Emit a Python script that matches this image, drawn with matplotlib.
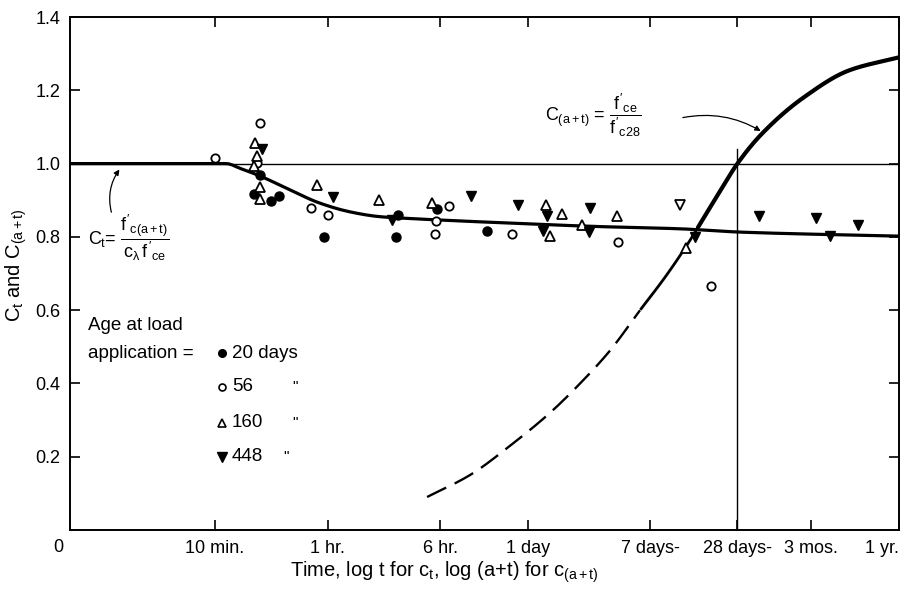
import matplotlib
matplotlib.use("Agg")
import matplotlib.pyplot as plt
from matplotlib.ticker import NullLocator
import numpy as np

plt.rcParams['font.family'] = ['Liberation Sans', 'DejaVu Sans']
plt.rcParams['mathtext.fontset'] = 'custom'
plt.rcParams['mathtext.rm'] = 'Liberation Sans'
plt.rcParams['mathtext.it'] = 'Liberation Sans'
plt.rcParams['mathtext.sf'] = 'Liberation Sans'

# time axis is in minutes (log scale)
tick_minutes = [10, 60, 360, 1440, 10080, 40320, 129600, 525600]
tick_labels = ['10 min.', '1 hr.', '6 hr.', '1 day', '7 days-', '28 days-', '3 mos.', '1 yr.']
y_ticks = [0.2, 0.4, 0.6, 0.8, 1.0, 1.2, 1.4]

# c_t curve
ct_t = [1, 12, 14.9, 20.5, 33, 53, 86, 138, 222, 400, 676, 4545, 16200, 42070, 525600]
ct_v = [1.0, 1.0, 0.987, 0.966, 0.928, 0.892, 0.868, 0.855, 0.850, 0.845, 0.841, 0.828, 0.822, 0.813, 0.802]

# C(a+t) curve: dashed (extrapolated) part, then solid
ca_dash_t = [291, 576, 1088, 2055, 3311, 5333, 8590]
ca_dash_v = [0.09, 0.15, 0.23, 0.32, 0.40, 0.49, 0.60]
ca_t = [8590, 12770, 18110, 21240, 30600, 40320, 59000, 115000, 240000, 525600]
ca_v = [0.60, 0.69, 0.778, 0.822, 0.925, 1.0, 1.08, 1.18, 1.255, 1.29]

# test points by age at load application
d20_t = [18.6, 20.5, 24.3, 27.8, 56.6, 184.5, 177, 339.5, 758]
d20_v = [0.917, 0.968, 0.899, 0.912, 0.799, 0.860, 0.799, 0.875, 0.817]

d56_t = [10.0, 20.5, 19.6, 46.0, 60.6, 335.6, 332, 415, 1128, 6053, 26540]
d56_v = [1.014, 1.112, 1.002, 0.878, 0.860, 0.844, 0.809, 0.885, 0.808, 0.787, 0.667]

d160_t = [18.9, 19.4, 18.6, 20.5, 20.5, 50.4, 135, 316, 1918, 2055, 2498, 3433, 5985, 17830]
d160_v = [1.057, 1.021, 0.993, 0.935, 0.903, 0.942, 0.901, 0.893, 0.887, 0.801, 0.862, 0.833, 0.857, 0.769]

d448_t = [21.0, 65.6, 166, 582, 1230, 1950, 1829, 3880, 3836, 20560, 57150, 140000, 175800, 275600]
d448_v = [1.039, 0.908, 0.846, 0.912, 0.887, 0.857, 0.817, 0.878, 0.814, 0.799, 0.857, 0.851, 0.803, 0.832]

odd_t = [16220]
odd_v = [0.887]


def smooth(t, v, n=200):
    # monotone cubic (Fritsch-Carlson) through the points, in log10 time
    x = np.log10(np.asarray(t, float))
    y = np.asarray(v, float)
    h = np.diff(x)
    d = np.diff(y) / h
    m = np.zeros_like(y)
    m[0], m[-1] = d[0], d[-1]
    for k in range(1, len(y) - 1):
        if d[k - 1] * d[k] > 0:
            w1 = 2 * h[k] + h[k - 1]
            w2 = h[k] + 2 * h[k - 1]
            m[k] = (w1 + w2) / (w1 / d[k - 1] + w2 / d[k])
    xs = np.linspace(x[0], x[-1], n)
    idx = np.clip(np.searchsorted(x, xs) - 1, 0, len(h) - 1)
    s = (xs - x[idx]) / h[idx]
    h00 = 2 * s**3 - 3 * s**2 + 1
    h10 = s**3 - 2 * s**2 + s
    h01 = -2 * s**3 + 3 * s**2
    h11 = s**3 - s**2
    ys = h00 * y[idx] + h10 * h[idx] * m[idx] + h01 * y[idx + 1] + h11 * h[idx] * m[idx + 1]
    return 10**xs, ys


fig = plt.figure(figsize=(9.13, 5.89), dpi=100)
ax = fig.add_axes([0.0767, 0.1002, 0.9080, 0.8709])

ax.set_xscale('log')
ax.set_xlim(1, 525600)
ax.set_ylim(0, 1.4)

# reference lines
ax.plot([1, 525600], [1.0, 1.0], color='black', lw=1.0, zorder=1)
ax.plot([40320, 40320], [0, 1.04], color='black', lw=1.0, zorder=1)

ax.plot(*smooth(ct_t, ct_v), color='black', lw=2.3, zorder=2)

full_t, full_v = smooth(ca_dash_t + ca_t[1:], ca_dash_v + ca_v[1:], 400)
dash = full_t <= ca_t[0]
ax.plot(full_t[dash], full_v[dash], color='black', lw=1.7, linestyle=(0, (9, 4)), zorder=2)
lower = (full_t >= ca_t[0]) & (full_t <= ca_t[3])
ax.plot(full_t[lower], full_v[lower], color='black', lw=2.0, zorder=2)
upper = full_t >= ca_t[3]
ax.plot(full_t[upper], full_v[upper], color='black', lw=3.0, solid_capstyle='round', zorder=2)

ax.plot(d20_t, d20_v, 'o', ms=6.5, color='black', zorder=3)
ax.plot(d56_t, d56_v, 'o', ms=6, mfc='white', mec='black', mew=1.3, zorder=3)
ax.plot(d160_t, d160_v, '^', ms=7, mfc='white', mec='black', mew=1.3, zorder=3)
ax.plot(d448_t, d448_v, 'v', ms=7.5, color='black', zorder=3)
ax.plot(odd_t, odd_v, 'v', ms=7, mfc='white', mec='black', mew=1.3, zorder=3)

# axes styling
ax.set_xticks(tick_minutes)
ax.set_xticklabels(tick_labels)
ax.xaxis.set_minor_locator(NullLocator())
ax.set_yticks(y_ticks)
ax.set_yticklabels(['0.2', '0.4', '0.6', '0.8', '1.0', '1.2', '1.4'])
ax.tick_params(direction='in', top=True, right=True, length=7, width=1.2,
               labelsize=13, pad=7)
ax.get_xticklabels()[-1].set_ha('right')
for s in ax.spines.values():
    s.set_linewidth(1.4)

fig.text(0.0635, 0.0713, '0', fontsize=13, ha='center', va='center')

ax.set_ylabel(r'$C_t$ and $C_{(a+t)}$', fontsize=14.5)
ax.yaxis.set_label_coords(-0.05, 0.517)
ax.set_xlabel(r'Time, log t for $c_t$, log (a+t) for $c_{(a+t)}$', fontsize=14.5)
ax.xaxis.set_label_coords(0.452, -0.058)

# formulas with pointer arrows
ax.text(0.0217, 0.569, r"$C_t$= $\dfrac{f'_{c(a+t)}}{c_\lambda\, f'_{ce}}$",
        transform=ax.transAxes, fontsize=13, ha='left', va='center')
ax.annotate('', xy=(2.25, 0.99), xytext=(1.95, 0.86),
            arrowprops=dict(arrowstyle='-|>', color='black', lw=0.9,
                            mutation_scale=8, connectionstyle='arc3,rad=-0.25'))

ax.text(0.573, 0.809, r"$C_{(a+t)}$ = $\dfrac{f'_{ce}}{f'_{c28}}$",
        transform=ax.transAxes, fontsize=13, ha='left', va='center')
ax.annotate('', xy=(60600, 1.085), xytext=(16220, 1.124),
            arrowprops=dict(arrowstyle='-|>', color='black', lw=0.9,
                            mutation_scale=8, connectionstyle='arc3,rad=-0.2'))

# key for the age at load application
kx, nx = 0.1834, 0.1954
ax.text(0.0217, 0.3996, 'Age at load', transform=ax.transAxes, fontsize=13.5, va='center')
ax.text(0.0217, 0.345, 'application =', transform=ax.transAxes, fontsize=13.5, va='center')
ax.plot([kx], [0.345], 'o', ms=5.5, color='black', transform=ax.transAxes, clip_on=False)
ax.text(nx, 0.345, '20 days', transform=ax.transAxes, fontsize=13.5, va='center')
ax.plot([kx], [0.2788], 'o', ms=5, mfc='white', mec='black', mew=1.2, transform=ax.transAxes)
ax.text(nx, 0.2788, '56', transform=ax.transAxes, fontsize=13.5, va='center')
ax.text(0.2678, 0.2788, '"', transform=ax.transAxes, fontsize=11, va='center')
ax.plot([kx], [0.2086], '^', ms=6, mfc='white', mec='black', mew=1.2, transform=ax.transAxes)
ax.text(nx, 0.2086, '160', transform=ax.transAxes, fontsize=13.5, va='center')
ax.text(0.2678, 0.2086, '"', transform=ax.transAxes, fontsize=11, va='center')
ax.plot([kx], [0.1423], 'v', ms=6.5, color='black', transform=ax.transAxes)
ax.text(nx, 0.1423, '448', transform=ax.transAxes, fontsize=13.5, va='center')
ax.text(0.2569, 0.1423, '"', transform=ax.transAxes, fontsize=11, va='center')

fig.savefig('out.png', dpi=100)
